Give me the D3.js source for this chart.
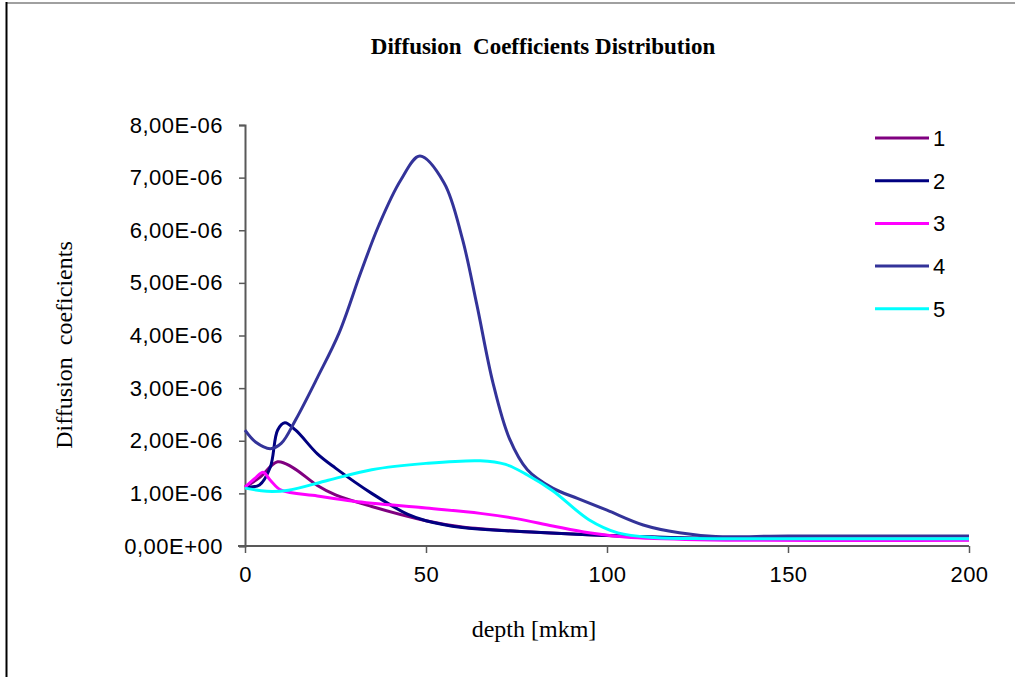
<!DOCTYPE html>
<html>
<head>
<meta charset="utf-8">
<script src="https://cdn.jsdelivr.net/npm/d3@7"></script>
<style>
  body { margin: 0; background: #fff; }
  svg { display: block; }
  .tick text { font-family: "Liberation Sans", Arial, sans-serif; fill: #000; }
</style>
</head>
<body>
<script>
const w = 1015;
const h = 677;
const margin = { top: 125, right: 46, bottom: 131, left: 245 };

// Readings from the picture: depth (mkm) and diffusion coefficient (x1e-6)
const depth1 = [0, 4, 9, 13, 20, 25, 35, 50, 60, 75, 100, 125, 200];
const coef1 = [1.12, 1.3, 1.6, 1.5, 1.15, 0.97, 0.75, 0.48, 0.36, 0.28, 0.2, 0.14, 0.12];

const depth2 = [0, 4, 7, 9, 11, 14, 20, 25, 35, 45, 50, 60, 75, 100, 125, 200];
const coef2 = [1.12, 1.16, 1.5, 2.2, 2.34, 2.2, 1.75, 1.48, 1.0, 0.6, 0.48, 0.35, 0.28, 0.2, 0.15, 0.13];

const depth3 = [0, 3, 5, 7, 10, 20, 30, 50, 65, 75, 85, 95, 105, 125, 200];
const coef3 = [1.12, 1.3, 1.4, 1.25, 1.06, 0.95, 0.85, 0.72, 0.62, 0.52, 0.38, 0.25, 0.17, 0.12, 0.11];

const depth4 = [0, 3, 7, 10, 14, 20, 26, 32, 37, 43, 48.3, 55, 60, 64, 68.5, 73, 78, 85, 92, 100, 110, 120, 130, 150, 200];
const coef4 = [2.2, 1.97, 1.85, 1.95, 2.4, 3.2, 4.05, 5.2, 6.1, 6.95, 7.41, 6.9, 5.85, 4.6, 3.1, 2.05, 1.45, 1.1, 0.9, 0.68, 0.4, 0.25, 0.18, 0.19, 0.19];

const depth5 = [0, 6, 12, 23, 35, 50, 65, 72, 78, 85, 95, 103, 113, 130, 200];
const coef5 = [1.1, 1.04, 1.06, 1.25, 1.45, 1.57, 1.62, 1.55, 1.35, 1.05, 0.5, 0.25, 0.16, 0.14, 0.14];

const seriesNames = ["1", "2", "3", "4", "5"];
const seriesColors = ["#800080", "#000080", "#ff00ff", "#333399", "#00ffff"];
const xTicks = [0, 50, 100, 150, 200];
const yTicks = [0, 1e-6, 2e-6, 3e-6, 4e-6, 5e-6, 6e-6, 7e-6, 8e-6];

const depths = [depth1, depth2, depth3, depth4, depth5];
const coefs = [coef1, coef2, coef3, coef4, coef5];
const series = seriesNames.map((name, i) => ({
    name: name,
    color: seriesColors[i],
    values: depths[i].map((d, j) => ({ x: d, y: coefs[i][j] * 1e-6 }))
}));

const svg = d3.select("body")
    .append("svg")
    .attr("width", w)
    .attr("height", h);

// Frame
svg.append("line")
    .attr("x1", 6).attr("x2", w).attr("y1", 3).attr("y2", 3)
    .attr("stroke", "#a0a0a0").attr("stroke-width", 2);
svg.append("line")
    .attr("x1", 6.5).attr("x2", 6.5).attr("y1", 2).attr("y2", h)
    .attr("stroke", "#000").attr("stroke-width", 2);

const xScale = d3.scaleLinear()
    .domain([0, 200])
    .range([margin.left, 969]);

const yScale = d3.scaleLinear()
    .domain([0, 8e-6])
    .range([546, margin.top]);

// Title
svg.append("text")
    .attr("x", 543)
    .attr("y", 54)
    .attr("text-anchor", "middle")
    .style("font-family", "'Liberation Serif', 'Times New Roman', serif")
    .style("font-weight", "bold")
    .style("font-size", "23px")
    .attr("xml:space", "preserve")
    .text("Diffusion  Coefficients Distribution");

// Axes
const yAxis = d3.axisLeft(yScale)
    .tickValues(yTicks)
    .tickSize(6)
    .tickPadding(16)
    .tickFormat(d => d === 0 ? "0,00E+00" : (d / 1e-6).toFixed(2).replace(".", ",") + "E-06");

const yG = svg.append("g")
    .attr("transform", `translate(${margin.left}, 0)`)
    .call(yAxis);

const xAxis = d3.axisBottom(xScale)
    .tickValues(xTicks)
    .tickSize(7)
    .tickPadding(13)
    .tickFormat(d3.format("d"));

const xG = svg.append("g")
    .attr("transform", "translate(0, 546)")
    .call(xAxis);

[yG, xG].forEach(g => {
    g.select(".domain").attr("stroke", "#595959").attr("stroke-width", 2);
    g.selectAll(".tick line").attr("stroke", "#595959").attr("stroke-width", 1.5);
    g.selectAll(".tick text").style("font-size", "22px").style("letter-spacing", "0.5px");
});
xG.select(".domain").attr("d", `M${margin.left - 7},0H969`);

// Axis titles
svg.append("text")
    .attr("x", 534)
    .attr("y", 637)
    .attr("text-anchor", "middle")
    .style("font-family", "'Liberation Serif', 'Times New Roman', serif")
    .style("font-size", "24px")
    .text("depth [mkm]");

svg.append("text")
    .attr("transform", "translate(72, 345) rotate(-90)")
    .attr("text-anchor", "middle")
    .style("font-family", "'Liberation Serif', 'Times New Roman', serif")
    .style("font-size", "24px")
    .attr("xml:space", "preserve")
    .text("Diffusion  coeficients");

// Lines
const line = d3.line()
    .x(d => xScale(d.x))
    .y(d => yScale(d.y))
    .curve(d3.curveCatmullRom.alpha(0.5));

svg.selectAll(".series")
    .data(series)
    .enter()
    .append("path")
    .attr("class", "series")
    .attr("d", d => line(d.values))
    .attr("fill", "none")
    .attr("stroke", d => d.color)
    .attr("stroke-width", 3)
    .attr("stroke-linejoin", "round");

// Legend
const legend = svg.append("g")
    .attr("transform", "translate(875, 138)");

const rows = legend.selectAll(".row")
    .data(series)
    .enter()
    .append("g")
    .attr("transform", (d, i) => `translate(0, ${i * 42.7})`);

rows.append("line")
    .attr("x1", 0).attr("x2", 54)
    .attr("stroke", d => d.color)
    .attr("stroke-width", 3);

rows.append("text")
    .attr("x", 58)
    .attr("y", 8)
    .style("font-family", "'Liberation Sans', Arial, sans-serif")
    .style("font-size", "22px")
    .text(d => d.name);
</script>
</body>
</html>
